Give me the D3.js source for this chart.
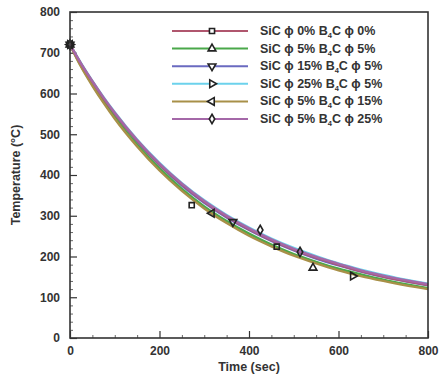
<!DOCTYPE html>
<html>
<head>
<meta charset="utf-8">
<script src="https://cdn.jsdelivr.net/npm/d3@7"></script>
<style>
  body { margin: 0; background: #fff; }
  svg { display: block; font-family: "Liberation Sans", Arial, sans-serif; font-weight: bold; }
</style>
</head>
<body>
<div id="chart"></div>
<script>
var svgWidth = 443;
var svgHeight = 380;

var margin = { top: 12, right: 15, bottom: 42, left: 70 };
var width = svgWidth - margin.left - margin.right;
var height = svgHeight - margin.top - margin.bottom;

// time grid for the simulated cooling curves
var times = [0, 25, 50, 75, 100, 150, 200, 250, 300, 350, 400, 450, 500, 550, 600, 650, 700, 750, 800];

// temperature curves, one per mix
var tempS1 = [720, 672, 629, 588, 551, 484, 426, 377, 334, 298, 267, 240, 217, 197, 180, 164, 151, 140, 130];
var tempS2 = [720, 667, 622, 580, 542, 474, 416, 366, 323, 287, 256, 229, 206, 187, 170, 156, 143, 132, 122];
var tempS3 = [720, 671, 627, 586, 549, 482, 424, 374, 332, 296, 265, 238, 215, 195, 178, 163, 150, 139, 129];
var tempS4 = [720, 674, 631, 591, 554, 487, 430, 380, 338, 302, 271, 244, 221, 201, 183, 168, 155, 143, 133];
var tempS5 = [720, 665, 619, 577, 538, 470, 411, 361, 318, 282, 251, 225, 202, 183, 166, 152, 140, 129, 120];
var tempS6 = [720, 673, 630, 590, 553, 486, 428, 379, 336, 300, 269, 242, 219, 199, 182, 166, 153, 142, 132];

// measured points (time, temperature)
var markS1 = [[0, 720], [272, 326], [462, 224]];
var markS2 = [[0, 720], [543, 172]];
var markS3 = [[0, 720], [364, 285]];
var markS4 = [[0, 720], [632, 152]];
var markS5 = [[0, 720], [317, 306]];
var markS6 = [[0, 720], [425, 265], [514, 211]];

var labels = [
  ["0%", "0%"],
  ["5%", "5%"],
  ["15%", "5%"],
  ["25%", "5%"],
  ["5%", "15%"],
  ["5%", "25%"]
];

var xTicks = [0, 200, 400, 600, 800];
var yTicks = [0, 100, 200, 300, 400, 500, 600, 700, 800];

var colors = ["#b0566e", "#4aa84a", "#6a6ac0", "#6cd2ec", "#a89048", "#a468a8"];
var symbols = [d3.symbolSquare, d3.symbolTriangle, "down", "right", "left", d3.symbolDiamond];

var series = [
  { temps: tempS1, marks: markS1 },
  { temps: tempS2, marks: markS2 },
  { temps: tempS3, marks: markS3 },
  { temps: tempS4, marks: markS4 },
  { temps: tempS5, marks: markS5 },
  { temps: tempS6, marks: markS6 }
];

var svg = d3.select("#chart")
  .append("svg")
  .attr("width", svgWidth)
  .attr("height", svgHeight);

var g = svg.append("g")
  .attr("transform", "translate(" + margin.left + "," + margin.top + ")");

var x = d3.scaleLinear().domain([0, 800]).range([0, width]);
var y = d3.scaleLinear().domain([0, 800]).range([height, 0]);

// minor ticks
var xMinor = d3.range(0, 801, 50).filter(d => d % 200 != 0);
var yMinor = d3.range(0, 801, 20).filter(d => d % 100 != 0);

g.append("g")
  .attr("transform", "translate(0," + height + ")")
  .call(d3.axisTop(x).tickValues(xMinor).tickSize(3).tickFormat(""))
  .call(a => a.select(".domain").remove())
  .selectAll("line").attr("stroke", "#666");

g.append("g")
  .call(d3.axisRight(y).tickValues(yMinor).tickSize(3).tickFormat(""))
  .call(a => a.select(".domain").remove())
  .selectAll("line").attr("stroke", "#666");

// major ticks pointing inward, labels outside
var xAxis = g.append("g")
  .attr("transform", "translate(0," + height + ")")
  .call(d3.axisTop(x).tickValues(xTicks).tickSize(7));
xAxis.select(".domain").remove();
xAxis.selectAll("line").attr("stroke", "#333").attr("stroke-width", 1.2);
xAxis.selectAll("text")
  .attr("y", 17)
  .attr("dy", 0)
  .attr("font-size", 12)
  .attr("font-weight", "bold")
  .attr("fill", "#333");

var yAxis = g.append("g")
  .call(d3.axisRight(y).tickValues(yTicks).tickSize(7));
yAxis.select(".domain").remove();
yAxis.selectAll("line").attr("stroke", "#333").attr("stroke-width", 1.2);
yAxis.selectAll("text")
  .attr("x", -10)
  .attr("text-anchor", "end")
  .attr("font-size", 12)
  .attr("font-weight", "bold")
  .attr("fill", "#333");

// curves
var line = d3.line()
  .x(d => x(d[0]))
  .y(d => y(d[1]))
  .curve(d3.curveMonotoneX);

var drawOrder = [3, 2, 1, 4, 0, 5];
drawOrder.forEach(function(i) {
  var pts = times.map((t, k) => [t, series[i].temps[k]]);
  g.append("path")
    .datum(pts)
    .attr("fill", "none")
    .attr("stroke", colors[i])
    .attr("stroke-width", 2.4)
    .attr("d", line);
});

function symbolPath(s, size) {
  if (s == "down" || s == "right" || s == "left") {
    return d3.symbol().type(d3.symbolTriangle).size(size)();
  }
  return d3.symbol().type(s).size(size)();
}
function symbolRotate(s) {
  if (s == "down") return 180;
  if (s == "right") return 90;
  if (s == "left") return -90;
  return 0;
}

// measured markers
series.forEach(function(s, i) {
  g.selectAll(".m" + i)
    .data(s.marks)
    .enter()
    .append("path")
    .attr("d", symbolPath(symbols[i], 26))
    .attr("transform", d => "translate(" + x(d[0]) + "," + y(d[1]) + ") rotate(" + symbolRotate(symbols[i]) + ")")
    .attr("fill", "none")
    .attr("stroke", "#222")
    .attr("stroke-width", 1.6);
});

// frame
g.append("rect")
  .attr("width", width)
  .attr("height", height)
  .attr("fill", "none")
  .attr("stroke", "#333")
  .attr("stroke-width", 1.6);

// legend
var legend = g.append("g").attr("transform", "translate(102,19)");
labels.forEach(function(lab, i) {
  var row = legend.append("g").attr("transform", "translate(0," + (i * 17.6) + ")");
  row.append("line")
    .attr("x1", 0).attr("x2", 76)
    .attr("stroke", colors[i])
    .attr("stroke-width", 2);
  row.append("path")
    .attr("d", symbolPath(symbols[i], 26))
    .attr("transform", "translate(40,0) rotate(" + symbolRotate(symbols[i]) + ")")
    .attr("fill", "#fff")
    .attr("stroke", "#222")
    .attr("stroke-width", 1.6);
  var t = row.append("text")
    .attr("x", 88)
    .attr("y", 4)
    .attr("font-size", 12.5)
    .attr("fill", "#333");
  t.append("tspan").text("SiC \u03d5 " + lab[0] + " B");
  t.append("tspan").attr("font-size", 7.5).attr("dy", 3).text("4");
  t.append("tspan").attr("dy", -3).text("C \u03d5 " + lab[1]);
});

// axis titles
svg.append("text")
  .attr("x", margin.left + width / 2)
  .attr("y", 371)
  .attr("text-anchor", "middle")
  .attr("font-size", 12.5)
  .attr("fill", "#333")
  .text("Time (sec)");

svg.append("text")
  .attr("transform", "translate(20," + (margin.top + height / 2) + ") rotate(-90)")
  .attr("text-anchor", "middle")
  .attr("font-size", 12.5)
  .attr("fill", "#333")
  .text("Temperature (\u00b0C)");
</script>
</body>
</html>
